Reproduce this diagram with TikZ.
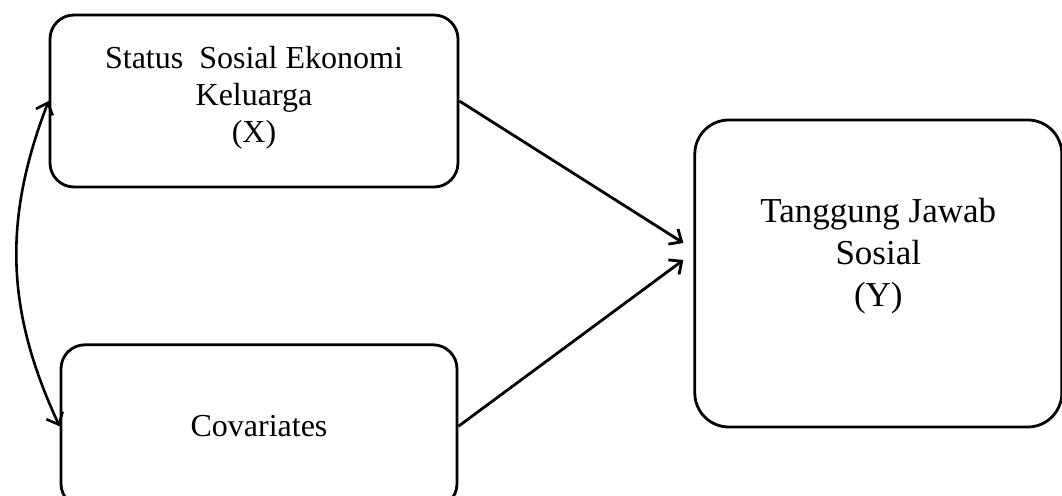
\documentclass[tikz,border=0pt]{standalone}
\usepackage{fontspec}
\setmainfont{Liberation Serif}
\usetikzlibrary{arrows.meta, positioning, calc}
\tikzset{
  >={Straight Barb[length=5pt, width=9pt]},
  var/.style    = {draw, line width=1.4pt, rounded corners=12pt,
                   align=center, fill=white, inner sep=0pt},
  outcome/.style = {var, rounded corners=17pt},
  arrow/.style  = {->, line width=1.4pt},
  corr/.style   = {<->, line width=1.3pt},
}

\begin{document}
\begin{tikzpicture}[
  every node/.style = {font=\fontsize{16}{18.5}\selectfont}]
  \useasboundingbox (0,0) rectangle (531pt,-248pt);

  % Left column: predictor and covariates
  \node[var, minimum width=204pt, minimum height=86pt] (ssek) at (127pt,-50.5pt)
        {Status\ \ Sosial Ekonomi\\Keluarga\\(X)\\[-12pt]\mbox{}};
  \node[var, minimum width=198pt, minimum height=81.5pt,
        below=77.5pt of ssek, xshift=2.5pt]                  (cov)  {Covariates};

  % Right column: outcome
  \node[outcome, minimum width=183.5pt, minimum height=153.5pt,
        right=117pt of ssek, yshift=-86.25pt,
        font=\fontsize{17.5}{21}\selectfont]                 (tjs)
        {Tanggung Jawab\\Sosial\\(Y)\\\mbox{}};

  % Arrow ends just left of the outcome box
  \coordinate (tipA) at ($(tjs.west)+(-5pt,15.25pt)$);
  \coordinate (tipB) at ($(tjs.west)+(-5pt,6.75pt)$);

  % Edges
  \draw[arrow] (ssek.east) -- (tipA);
  \draw[arrow] (cov.east)  -- (tipB);
  \draw[corr]  (ssek.west) to[bend right=23] (cov.west);
\end{tikzpicture}
\end{document}
